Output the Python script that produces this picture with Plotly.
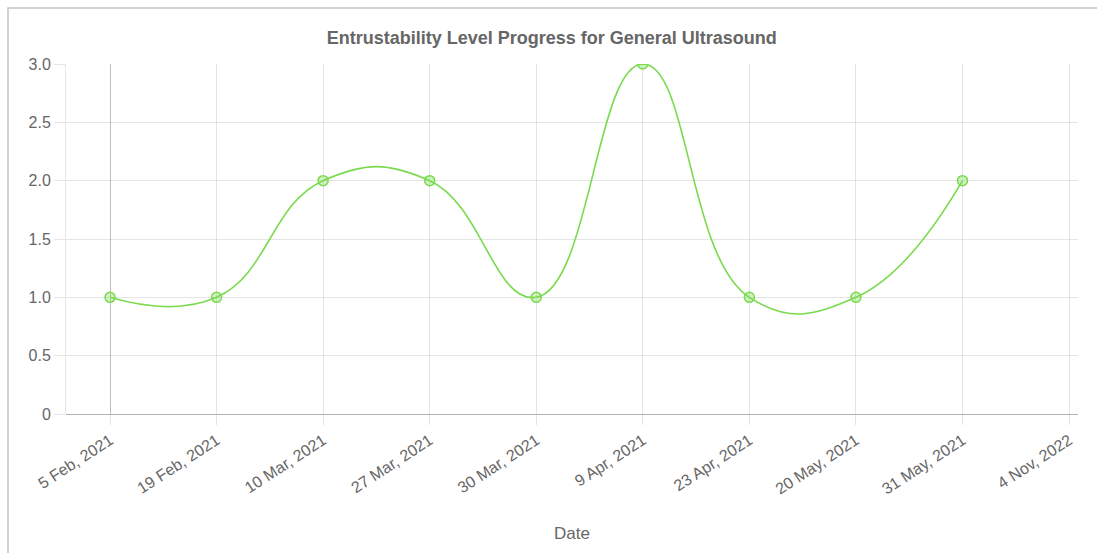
import plotly.graph_objects as go

# Assessment dates and entrustability levels
dates = ["5 Feb, 2021", "19 Feb, 2021", "10 Mar, 2021", "27 Mar, 2021",
         "30 Mar, 2021", "9 Apr, 2021", "23 Apr, 2021", "20 May, 2021",
         "31 May, 2021", "4 Nov, 2022"]
levels = [1, 1, 2, 2, 1, 3, 1, 1, 2, None]

y_ticks = [0, 0.5, 1.0, 1.5, 2.0, 2.5, 3.0]
y_tick_labels = ["0", "0.5", "1.0", "1.5", "2.0", "2.5", "3.0"]

idx = list(range(len(dates)))
pts_x = [i for i, v in zip(idx, levels) if v is not None]
pts_y = [v for v in levels if v is not None]

green = "rgb(122, 218, 78)"
grid = "rgba(0,0,0,0.1)"
text_col = "#666666"
font_family = "Liberation Sans, Arial, sans-serif"

fig = go.Figure()
fig.add_trace(go.Scatter(
    x=pts_x, y=pts_y,
    mode="lines+markers",
    line=dict(color=green, width=1.6, shape="spline", smoothing=1.3),
    marker=dict(size=10, color="rgba(122,218,78,0.35)",
                line=dict(color=green, width=1.5)),
    hoverinfo="x+y",
    showlegend=False,
))

W, H = 1097, 553
ml, mr, mt, mb = 66, 19, 64, 139
pw, ph = W - ml - mr, H - mt - mb

# outer container frame
fx0 = (8 - ml) / pw
fy1 = (ph + mt - 8) / ph
fig.add_shape(type="rect", xref="paper", yref="paper",
              x0=fx0, x1=1.2, y0=-0.6, y1=fy1,
              line=dict(color="#c4c4c4", width=1.5), layer="below")

fig.update_layout(
    width=W, height=H,
    margin=dict(l=ml, r=mr, t=mt, b=mb),
    paper_bgcolor="white", plot_bgcolor="white",
    font=dict(family=font_family, color=text_col, size=16),
    title=dict(text="<b>Entrustability Level Progress for General Ultrasound</b>",
               x=0.503, xref="container", xanchor="center",
               y=1 - 38 / H, yref="container", yanchor="middle",
               font=dict(size=18, color=text_col, family=font_family)),
    xaxis=dict(
        range=[-0.413, 9.084],
        tickmode="array", tickvals=idx, ticktext=dates,
        tickangle=-33,
        showgrid=True, gridcolor=grid, gridwidth=1,
        zeroline=True, zerolinecolor="rgba(0,0,0,0.25)", zerolinewidth=1,
        ticks="outside", ticklen=10, tickcolor=grid,
        showline=False,
        tickfont=dict(size=16, color=text_col),
        title=dict(text="Date", font=dict(size=17, color=text_col), standoff=30),
        fixedrange=True,
    ),
    yaxis=dict(
        range=[0, 3.0],
        tickmode="array", tickvals=y_ticks, ticktext=y_tick_labels,
        showgrid=True, gridcolor=grid, gridwidth=1,
        zeroline=True, zerolinecolor="rgba(0,0,0,0.3)", zerolinewidth=1,
        ticks="outside", ticklen=11, tickcolor=grid,
        showline=True, linecolor=grid, linewidth=1,
        tickfont=dict(size=16, color=text_col),
        fixedrange=True,
    ),
)

fig.write_html("out.html")
